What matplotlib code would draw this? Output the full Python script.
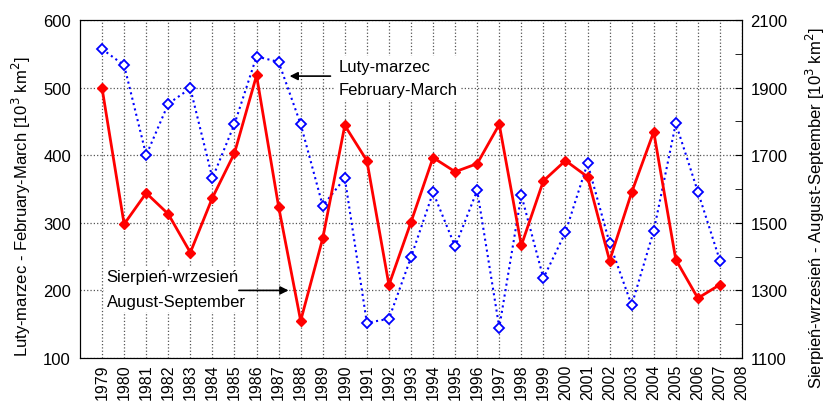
import numpy as np
import matplotlib
matplotlib.use("Agg")
import matplotlib.pyplot as plt
from matplotlib.ticker import FixedLocator

plt.rcParams['font.family'] = ['Liberation Sans', 'DejaVu Sans']

years = list(range(1979, 2008))
# Feb-March (left axis), 10^3 km^2
feb_mar = [557, 533, 400, 476, 499, 366, 446, 546, 538, 446,
           325, 366, 152, 158, 249, 345, 265, 348, 145, 341,
           218, 286, 388, 270, 178, 288, 447, 346, 244]
# Aug-Sept (right axis), 10^3 km^2
aug_sep = [1898, 1496, 1588, 1526, 1412, 1574, 1706, 1936, 1548, 1210,
           1454, 1788, 1684, 1316, 1502, 1693, 1651, 1675, 1791, 1433,
           1624, 1684, 1636, 1388, 1590, 1769, 1391, 1277, 1317]
year_ticks = list(range(1979, 2009))
left_ticks = [100, 200, 300, 400, 500, 600]
right_ticks = [1100, 1300, 1500, 1700, 1900, 2100]
right_minor = [1200, 1400, 1600, 1800, 2000]

fig = plt.figure(figsize=(8.26, 4.02), dpi=100)
ax = fig.add_axes([80/826, 43/402, 662/826, 338/402])
ax2 = ax.twinx()

ax.plot(years, feb_mar, color='blue', linestyle=':', linewidth=1.5,
        marker='D', markersize=5.5, markerfacecolor='white',
        markeredgecolor='blue', markeredgewidth=1.3)
ax2.plot(years, aug_sep, color='red', linestyle='-', linewidth=2,
         marker='D', markersize=5.5, markerfacecolor='red',
         markeredgecolor='red')

ax.set_xlim(1978, 2008)
ax.set_ylim(100, 600)
ax2.set_ylim(1100, 2100)

ax.set_xticks(year_ticks)
ax.set_xticklabels([str(y) for y in year_ticks], rotation=90, fontsize=11.5)
ax.set_yticks(left_ticks)
ax.tick_params(axis='y', direction='in', labelsize=12, length=0, pad=6.5)
ax.tick_params(axis='x', direction='in', length=0, pad=4)
ax2.yaxis.set_major_locator(FixedLocator(right_ticks))
ax2.yaxis.set_minor_locator(FixedLocator(right_minor))
ax2.tick_params(axis='y', which='both', direction='in', length=5, labelsize=12, pad=6)
ax.grid(True, linestyle=':', color='#555555', linewidth=0.9)

fig.text(21/826, 1 - 207/402, "Luty-marzec - February-March [10$^3$ km$^2$]",
         fontsize=12, rotation=90, ha='center', va='center')
fig.text(815/826, 1 - 208/402, "Sierpie\u0144-wrzesie\u0144 - August-September [10$^3$ km$^2$]",
         fontsize=12, rotation=90, ha='center', va='center')

box = dict(facecolor='white', edgecolor='none', pad=2)
ax.text(1989.7, 514, "Luty-marzec\nFebruary-March", fontsize=12,
        va='center', ha='left', linespacing=1.7, bbox=box)
ax.annotate("", xy=(1987.5, 517), xytext=(1989.35, 517),
            arrowprops=dict(arrowstyle='-|>', color='black', lw=1.2,
                            mutation_scale=12, shrinkA=0, shrinkB=0))

ax.text(1979.2, 202, "Sierpie\u0144-wrzesie\u0144\nAugust-September", fontsize=12,
        va='center', ha='left', linespacing=1.85, bbox=box)
ax.annotate("", xy=(1987.45, 200), xytext=(1985.2, 200),
            arrowprops=dict(arrowstyle='-|>', color='black', lw=1.2,
                            mutation_scale=12, shrinkA=0, shrinkB=0))

plt.savefig('out.png', dpi=100)
